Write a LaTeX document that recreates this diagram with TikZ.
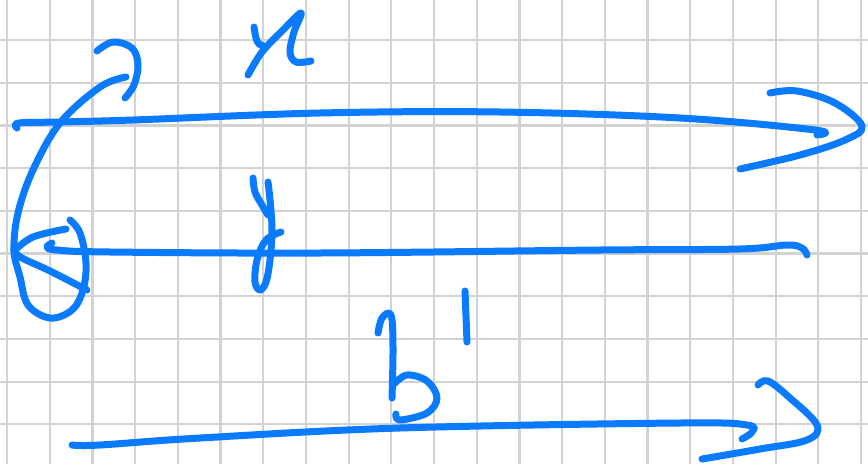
\documentclass[tikz,border=0pt]{standalone}
\usetikzlibrary{calc}
\definecolor{ink}{RGB}{10,122,255}
\definecolor{gridc}{RGB}{210,210,210}
\tikzset{
  pen/.style={draw=ink, line width=7pt, line cap=round, line join=round},
  gridline/.style={draw=gridc, line width=2.2pt}
}
\begin{document}
\begin{tikzpicture}[x=1pt,y=-1pt]
\useasboundingbox (0,0) rectangle (868,464);
\fill[white] (0,0) rectangle (868,464);
% grid
\foreach \k in {0,...,20} {\draw[gridline] ({7+42.7*\k},0) -- ({7+42.7*\k},464);}
\foreach \k in {0,...,9} {\draw[gridline] (0,{40+42.7*\k}) -- (868,{40+42.7*\k});}
% top line
\draw[pen] plot[smooth,tension=0.6] coordinates {(17,128) (19,123) (60,122) (133,120) (320,113) (500,112) (680,118) (815,130) (817,135)};
% top arrowhead
\draw[pen] plot[smooth,tension=0.6] coordinates {(770,93) (797,91) (835,103) (862,126) (845,140) (800,155) (740,169)};
% middle line
\draw[pen] plot[smooth,tension=0.6] coordinates {(52,243) (47,247) (57,250) (110,252) (320,253) (600,250) (740,249) (787,245) (802,248) (807,255)};
% bottom line
\draw[pen] plot[smooth,tension=0.6] coordinates {(72,445) (100,445) (200,438) (400,428) (680,423) (747,425) (752,432) (742,439)};
% bottom arrowhead
\draw[pen] plot[smooth,tension=0.6] coordinates {(758,385) (768,381) (790,398) (817,425) (807,440) (760,449) (702,459)};
% rotation arc with loop
\draw[pen] plot[smooth,tension=0.6] coordinates {(126,77) (100,87) (60,123) (33,170) (18,213) (14,250) (20,277) (28,305) (50,318) (72,310) (83,290) (86,263) (80,233) (70,220)};
% rotation arrow barbs
\draw[pen] plot[smooth,tension=0.6] coordinates {(14,251) (33,237) (66,229)};
\draw[pen] plot[smooth,tension=0.6] coordinates {(14,251) (22,258) (50,271) (87,290)};
% top hook
\draw[pen] plot[smooth,tension=0.6] coordinates {(97,51) (113,42) (132,48) (138,65) (134,85) (125,98)};
% letter x
\draw[pen] plot[smooth,tension=0.6] coordinates {(254,27) (256,38) (259,44) (264,46)};
\draw[pen] plot[smooth,tension=0.6] coordinates {(248,75) (262,52) (283,30) (301,13) (294,32) (290,52) (296,62) (311,61)};
% letter y
\draw[pen] plot[smooth,tension=0.6] coordinates {(253,178) (255,192) (262,205) (268,215)};
\draw[pen] plot[smooth,tension=0.6] coordinates {(268,182) (270,200) (272,230) (270,260) (266,282) (260,290) (255,282) (257,260) (266,240) (281,232)};
% letter b
\draw[pen] plot[smooth,tension=0.6] coordinates {(378,333) (382,318) (391,315) (393,347) (392,398)};
\draw[pen] plot[smooth,tension=0.6] coordinates {(394,384) (407,375) (427,381) (437,398) (427,413) (400,420) (396,414)};
% digit 1
\draw[pen] (465,291) -- (467,342);
\end{tikzpicture}
\end{document}
